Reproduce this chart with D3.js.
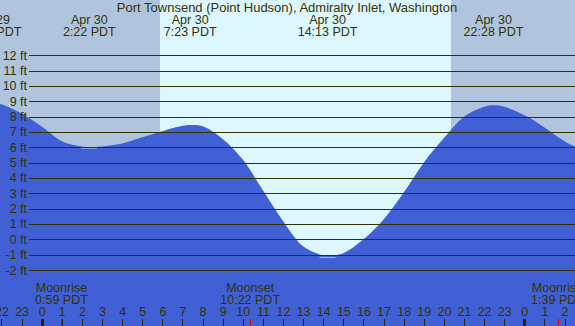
<!DOCTYPE html>
<html>
<head>
    <meta charset="UTF-8">
    <style>
        body { margin: 0; }
        text {
            font-family: "Liberation Sans", Arial, sans-serif;
            font-size: 12.5px;
            fill: #333300;
        }
        .grid line { stroke: #333300; stroke-width: 1; shape-rendering: crispEdges; }
        .hours line { stroke: #222; shape-rendering: crispEdges; }
    </style>
</head>
<body>
    <script src="https://cdn.jsdelivr.net/npm/d3@7"></script>
    <script>
        // hours relative to Apr 30 00:00 PDT, heights in ft
        var hours   = [-2.5, -2, -1, 0, 1, 2, 2.37, 3, 4, 5, 6, 7, 7.38, 8, 9, 10, 11, 12, 13, 14, 14.22,
                       15, 16, 17, 18, 19, 20, 21, 22, 22.47, 23, 24, 25, 26, 26.6];
        var heights = [8.9, 8.8, 8.2, 7.35, 6.4, 6.05, 6.0, 6.05, 6.25, 6.65, 7.05, 7.4, 7.45, 7.37, 6.55, 5.2, 3.2, 1.2, -0.45, -1.05, -1.07,
                       -0.9, 0.0, 1.3, 3.05, 5.0, 6.6, 8.0, 8.65, 8.75, 8.65, 8.1, 7.3, 6.4, 6.0];

        var eventHours = [-2.5, 2.367, 7.383, 14.217, 22.467];
        var eventDays  = ["Apr 29", "Apr 30", "Apr 30", "Apr 30", "Apr 30"];
        var eventTimes = ["21:30 PDT", "2:22 PDT", "7:23 PDT", "14:13 PDT", "22:28 PDT"];
        var eventLows  = [false, true, false, true, false];

        var sunrise = 5.88, sunset = 20.35;

        var moonHours = [0.983, 10.367, 25.65];
        var moonNames = ["Moonrise", "Moonset", "Moonrise"];
        var moonTimes = ["0:59 PDT", "10:22 PDT", "1:39 PDT"];

        var ftTicks = d3.range(-2, 13);
        var hourTicks = d3.range(-2, 27);

        var title = "Port Townsend (Point Hudson), Admiralty Inlet, Washington";

        var w = 575, h = 326;
        var x = d3.scaleLinear().domain([-2.074, 26.52]).range([0, w]);
        var y = d3.scaleLinear().domain([-2, 12]).range([270, 55.3]);

        var svg = d3.select("body").append("svg")
            .attr("width", w)
            .attr("height", h);

        // day / night background
        svg.append("rect").attr("width", w).attr("height", h).attr("fill", "#ddf7fe");
        svg.append("rect").attr("x", 0).attr("width", x(sunrise)).attr("height", h).attr("fill", "#b0c4de");
        svg.append("rect").attr("x", x(sunset)).attr("width", w - x(sunset)).attr("height", h).attr("fill", "#b0c4de");

        var data = hours.map((d, i) => [d, heights[i]]);
        var area = d3.area()
            .curve(d3.curveCatmullRom.alpha(0.5))
            .x(d => x(d[0]))
            .y0(h)
            .y1(d => y(d[1]));
        svg.append("path")
            .datum(data)
            .attr("d", area)
            .attr("fill", "#4160d6");

        // small marks at low tides
        eventHours.forEach((t, i) => {
            if (!eventLows[i]) return;
            var v = heights[hours.indexOf(d3.least(hours, d => Math.abs(d - t)))];
            svg.append("line")
                .attr("x1", x(t) - 8).attr("x2", x(t) + 8)
                .attr("y1", Math.round(y(v)) + 1.5).attr("y2", Math.round(y(v)) + 1.5)
                .attr("stroke", t < sunrise ? "#b0c4de" : "#ddf7fe")
                .attr("stroke-opacity", 0.6);
        });

        // height grid + labels
        var yAxis = d3.axisLeft(y)
            .tickValues(ftTicks)
            .tickSize(-(w - 29))
            .tickPadding(2)
            .tickFormat(d => d + " ft");
        var gy = svg.append("g")
            .attr("class", "grid")
            .attr("transform", "translate(29,0)")
            .call(yAxis);
        gy.select(".domain").remove();
        gy.selectAll("text").attr("fill", "#333300").style("font-size", "12.5px")
            .style("font-family", "'Liberation Sans', Arial, sans-serif");

        // hour ticks along the bottom
        var xAxis = d3.axisTop(x)
            .tickValues(hourTicks)
            .tickSize(7)
            .tickPadding(3)
            .tickFormat(d => ((d % 24) + 24) % 24);
        var gx = svg.append("g")
            .attr("class", "hours")
            .attr("transform", "translate(0," + h + ")")
            .call(xAxis);
        gx.select(".domain").remove();
        gx.selectAll("line")
            .attr("stroke", "#222")
            .attr("stroke-width", d => d % 24 === 0 ? 3 : 1);
        gx.selectAll("text").attr("fill", "#333300").style("font-size", "12.5px")
            .style("font-family", "'Liberation Sans', Arial, sans-serif");

        // moon ticks
        svg.selectAll(".moontick")
            .data(moonHours)
            .enter().append("line")
            .attr("x1", d => Math.round(x(d)) + 0.5).attr("x2", d => Math.round(x(d)) + 0.5)
            .attr("y1", h - 7).attr("y2", h)
            .attr("stroke", "#e00000");

        var moon = svg.selectAll(".moon")
            .data(moonHours)
            .enter().append("g");
        moon.append("text")
            .attr("x", d => x(d)).attr("y", 292)
            .attr("text-anchor", "middle")
            .text((d, i) => moonNames[i]);
        moon.append("text")
            .attr("x", d => x(d)).attr("y", 303.5)
            .attr("text-anchor", "middle")
            .text((d, i) => moonTimes[i]);

        // title and tide event labels
        svg.append("text")
            .attr("x", 287).attr("y", 11.5)
            .attr("text-anchor", "middle")
            .style("font-size", "13px")
            .text(title);

        var ev = svg.selectAll(".ev")
            .data(eventHours)
            .enter().append("g");
        ev.append("text")
            .attr("x", d => x(d)).attr("y", 23.5)
            .attr("text-anchor", "middle")
            .text((d, i) => eventDays[i]);
        ev.append("text")
            .attr("x", d => x(d)).attr("y", 36)
            .attr("text-anchor", "middle")
            .text((d, i) => eventTimes[i]);
    </script>
</body>
</html>
